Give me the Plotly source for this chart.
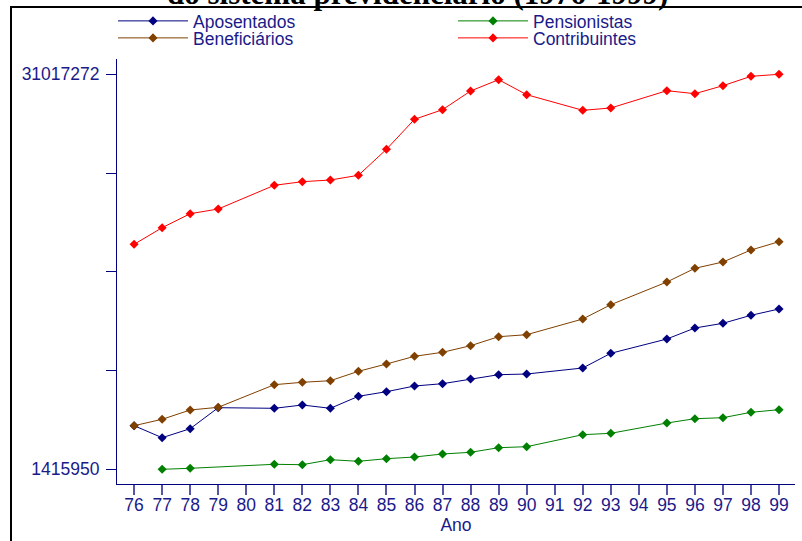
import plotly.graph_objects as go

anos = [76, 77, 78, 79, 81, 82, 83, 84, 85, 86, 87, 88, 89, 90, 92, 93, 95, 96, 97, 98, 99]
aposentados = [4683350, 3784050, 4458550, 6032250, 5987250, 6234550, 5987250, 6886550, 7231250,
               7658450, 7830850, 8183050, 8505250, 8557750, 9007350, 10108950, 11180650,
               12004950, 12357150, 12956750, 13428850]
pensionistas = [None, 1415950, 1490900, None, 1790650, 1760650, 2135350, 2015450, 2210350,
                2337750, 2562550, 2689950, 3034650, 3109550, 4008850, 4113750, 4885650,
                5207950, 5282850, 5687550, 5882350]
beneficiarios = [4683350, 5162950, 5859850, 6062250, 7755850, 7935750, 8055650, 8760050, 9307150,
                 9884150, 10183950, 10678550, 11352950, 11502850, 12679450, 13751050, 15452250,
                 16478850, 16951050, 17850250, 18472250]
contribuintes = [18277450, 19521450, 20570650, 20922850, 22698950, 22968650, 23096050, 23448350,
                 25396750, 27644950, 28364350, 29765750, 30612550, 29488450, 28319450, 28491750,
                 29788250, 29563450, 30162950, 30867350, 31017272]

x_ticks = list(range(76, 100))
x_labels = [str(v) for v in x_ticks]
y_min_label = 1415950
y_max_label = 31017272

NAVY = "#000080"
TXT = "#1a1a8a"
FONT = "Liberation Sans, Arial, sans-serif"

series = [
    ("Aposentados", aposentados, NAVY, "legend"),
    ("Pensionistas", pensionistas, "#008000", "legend"),
    ("Beneficiários", beneficiarios, "#804000", "legend2"),
    ("Contribuintes", contribuintes, "#ff0000", "legend2"),
]

fig = go.Figure()
for name, vals, col, lg in series:
    fig.add_trace(go.Scatter(
        x=anos, y=vals, name=name, mode="lines+markers", connectgaps=True,
        line=dict(color=col, width=1),
        marker=dict(symbol="diamond", size=7, color=col),
        legend=lg,
    ))

step = (y_max_label - y_min_label) / 4
y_tickvals = [y_min_label + k * step for k in range(5)]
y_ticktext = [str(y_min_label), "", "", "", str(y_max_label)]

L, R, T, B = 117, 7, 59, 57
W, H = 802, 541
pw, ph = W - L - R, H - T - B

def px(xp):
    return (xp - L) / pw

def py(yp):
    return (H - B - yp) / ph

leg_common = dict(orientation="h", xanchor="left", yanchor="middle",
                  bgcolor="rgba(0,0,0,0)", itemwidth=70, entrywidth=255,
                  font=dict(family=FONT, size=17.5, color=TXT), traceorder="normal")

fig.update_layout(
    width=W, height=H,
    margin=dict(l=L, r=R, t=T, b=B, autoexpand=False),
    paper_bgcolor="white", plot_bgcolor="white",
    showlegend=True,
    legend=dict(x=px(113), y=py(21), **leg_common),
    legend2=dict(x=px(113), y=py(38), **leg_common),
    font=dict(family=FONT, size=17.5, color=TXT),
    xaxis=dict(
        range=[75.39, 99.57], tickmode="array", tickvals=x_ticks, ticktext=x_labels,
        showgrid=False, zeroline=False, showline=True, linecolor=NAVY, linewidth=1,
        ticks="outside", ticklen=10, tickcolor="#5555aa", tickwidth=1.5,
        tickfont=dict(family=FONT, size=17.5, color=TXT), ticklabelstandoff=-5,
        title=dict(text="Ano", standoff=0, font=dict(family=FONT, size=17.5, color=TXT)),
    ),
    yaxis=dict(
        range=[314350, 32163850], tickmode="array", tickvals=y_tickvals, ticktext=y_ticktext,
        showgrid=False, zeroline=False, showline=True, linecolor=NAVY, linewidth=1,
        ticks="outside", ticklen=10, tickcolor=NAVY, tickwidth=1,
        tickfont=dict(family=FONT, size=17.5, color=TXT), ticklabelstandoff=3,
    ),
    shapes=[dict(type="rect", xref="paper", yref="paper",
                 x0=px(11), x1=px(810), y0=py(550), y1=py(7),
                 line=dict(color="black", width=2), fillcolor="rgba(0,0,0,0)", layer="above")],
    annotations=[dict(text="<b>do sistema previdenciário (1976-1999)</b>", xref="paper", yref="paper",
                      x=px(417), y=py(13), xanchor="center", yanchor="bottom", showarrow=False,
                      font=dict(family="Liberation Serif, Times New Roman, serif", size=31, color="black"))],
)

fig.write_html("out.html", config={"displayModeBar": False},
               post_script="document.body.style.margin='0';")
